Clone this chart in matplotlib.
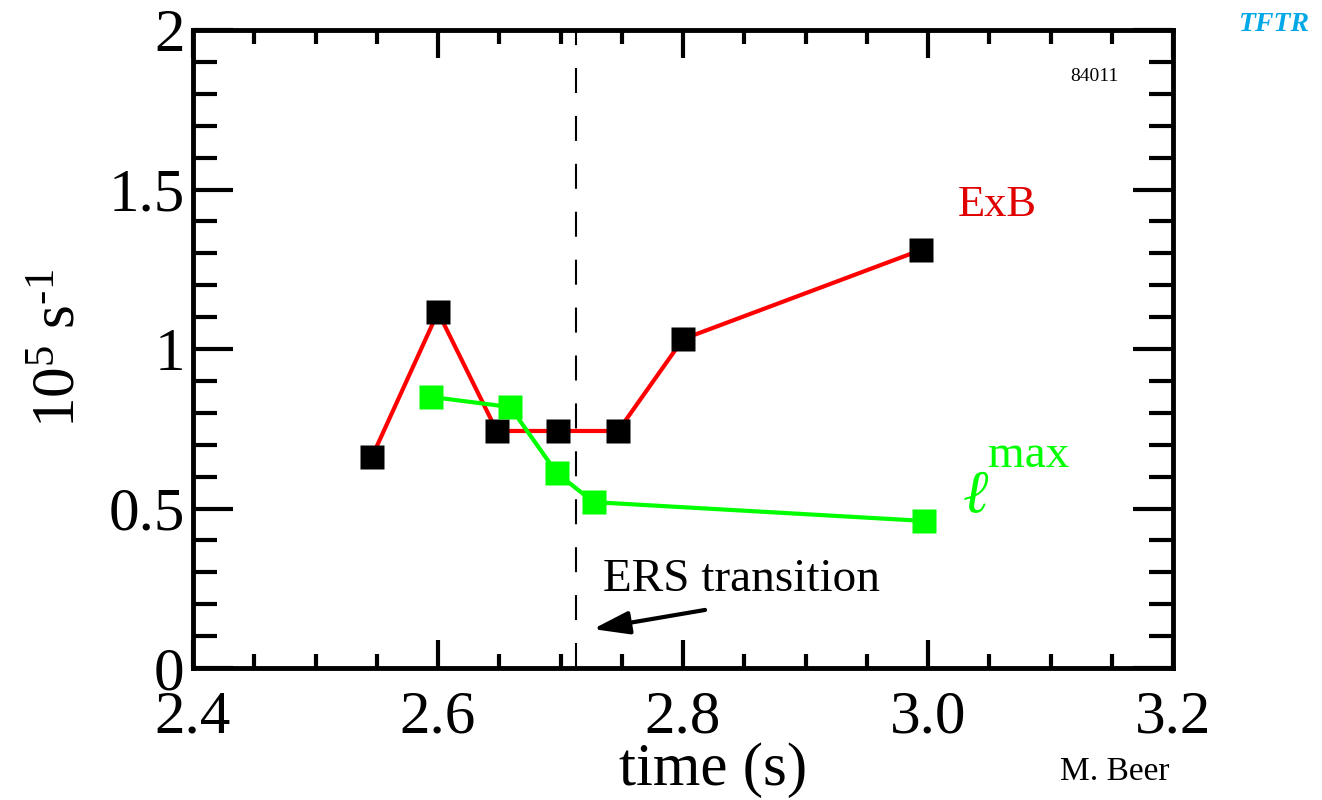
import matplotlib
matplotlib.use("Agg")
import matplotlib.pyplot as plt
from matplotlib.ticker import MultipleLocator

plt.rcParams['font.family'] = ['Liberation Serif', 'DejaVu Serif']
plt.rcParams['mathtext.fontset'] = 'custom'
plt.rcParams['mathtext.rm'] = 'Liberation Serif'
plt.rcParams['mathtext.it'] = 'Liberation Serif:italic'

# Data
exb_time = [2.546, 2.600, 2.648, 2.698, 2.747, 2.800, 2.994]
exb_rate = [0.661, 1.116, 0.743, 0.743, 0.743, 1.031, 1.310]
lmax_time = [2.594, 2.659, 2.697, 2.727, 2.997]
lmax_rate = [0.850, 0.818, 0.611, 0.520, 0.461]
transition_time = 2.713
x_ticks = [2.4, 2.6, 2.8, 3.0, 3.2]
x_tick_labels = ['2.4', '2.6', '2.8', '3.0', '3.2']
y_ticks = [0, 0.5, 1, 1.5, 2]
y_tick_labels = ['0', '0.5', '1', '1.5', '2']

fig = plt.figure(figsize=(13.22, 8.0), dpi=100)
ax = fig.add_axes([193/1322, 132/800, 980/1322, 638/800])

ax.plot(exb_time, exb_rate, color='#ff0000', lw=3, zorder=3)
ax.plot(exb_time, exb_rate, 's', color='black', ms=17, mec='none', zorder=4)
ax.plot(lmax_time, lmax_rate, color='#00ff00', lw=3, zorder=3)
ax.plot(lmax_time, lmax_rate, 's', color='#00ff00', ms=17, mec='none', zorder=4)

ax.axvline(transition_time, color='black', lw=1.5, linestyle=(0, (12, 11)), zorder=2)

ax.set_xlim(2.4, 3.2)
ax.set_ylim(0, 2)
ax.set_xticks(x_ticks)
ax.set_xticklabels(x_tick_labels)
ax.set_yticks(y_ticks)
ax.set_yticklabels(y_tick_labels)
ax.xaxis.set_minor_locator(MultipleLocator(0.05))
ax.yaxis.set_minor_locator(MultipleLocator(0.1))

for s in ax.spines.values():
    s.set_linewidth(3.5)

ax.tick_params(axis='x', which='major', direction='in', length=20, width=3,
               top=True, labelsize=44, pad=16)
ax.tick_params(axis='x', which='minor', direction='in', length=10, width=3, top=True)
ax.tick_params(axis='y', which='major', direction='in', length=29, width=3,
               right=True, labelsize=44, pad=6)
ax.tick_params(axis='y', which='minor', direction='in', length=17, width=3, right=True)

ax.text(0.531, -0.16, 'time (s)', transform=ax.transAxes, fontsize=44,
        ha='center', va='center')
ax.text(-0.136, 0.5, r'10$^{\text{5}}$ s$^{\text{-1}}$', transform=ax.transAxes,
        fontsize=44, rotation=90, ha='center', va='center')

ax.text(3.0245, 1.451, 'ExB', color='#e00000', fontsize=32, ha='left', va='center')
ax.text(3.028, 0.49, '\u2113', color='#00ff00', fontsize=44, style='italic',
        ha='left', va='baseline')
ax.text(3.049, 0.63, 'max', color='#00ff00', fontsize=34, ha='left', va='baseline')

ax.text(2.735, 0.276, 'ERS transition', fontsize=34, ha='left', va='center')
ax.annotate('', xy=(2.7265, 0.122), xytext=(2.818, 0.182),
            arrowprops=dict(arrowstyle='-|>,head_length=2.2,head_width=0.7',
                            color='black', lw=3, shrinkA=0, shrinkB=0))

ax.text(0.944, 0.927, '84011', transform=ax.transAxes, fontsize=14,
        ha='right', va='center')
fig.text(0.991, 0.985, 'TFTR', color='#00a8e8', fontsize=20, fontweight='bold',
         style='italic', ha='right', va='top')
fig.text(0.843, 0.035, 'M. Beer', fontsize=24, ha='center', va='center')

fig.savefig('out.png', dpi=100)
